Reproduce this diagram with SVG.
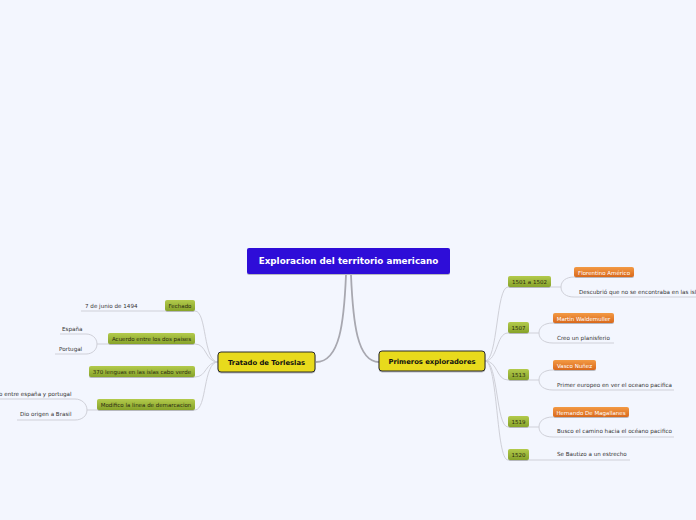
<svg xmlns="http://www.w3.org/2000/svg" width="696" height="520" viewBox="0 0 696 520">
<defs>
<linearGradient id="gGreen" x1="0" y1="0" x2="0" y2="1"><stop offset="0" stop-color="#b3ca4c"/><stop offset="1" stop-color="#86a32a"/></linearGradient>
<linearGradient id="gOrange" x1="0" y1="0" x2="0" y2="1"><stop offset="0" stop-color="#f39a44"/><stop offset="1" stop-color="#d9681c"/></linearGradient>
<filter id="sh" x="-10%" y="-20%" width="120%" height="160%"><feDropShadow dx="0" dy="1" stdDeviation="0.6" flood-color="#000" flood-opacity="0.25"/></filter>
</defs>
<style>
text{font-family:"DejaVu Sans",Verdana,sans-serif}
.leaf{font-size:5.6px;fill:#333}
.pill{font-size:5.5px;fill:#2b2b10;text-anchor:middle}
.opill{font-size:5.5px;fill:#fff;text-anchor:middle}
.g{fill:url(#gGreen);filter:url(#sh)}
.o{fill:url(#gOrange);filter:url(#sh)}
.main{fill:#e8da1c;stroke:#2a2a2a;stroke-width:1;filter:url(#sh)}
.mt{font-size:6.8px;font-weight:bold;fill:#111;text-anchor:middle}
.c{fill:none;stroke:#cfd0d8;stroke-width:1}
.cm{fill:none;stroke:#a8a8b0;stroke-width:1.8}
</style>
<rect width="696" height="520" fill="#f3f6fe"/>
<g id="connectors">
<path class="cm" d="M346,275 C344,322 340,362 316,362"/>
<path class="cm" d="M351,275 C353,322 357,362 379,362"/>
<path class="c" d="M195,311 C207,311 203,362 218,362"/>
<path class="c" d="M195,344 C207,344 205,362 218,362"/>
<path class="c" d="M195,377 C207,377 205,362 218,362"/>
<path class="c" d="M195,410 C207,410 203,362 218,362"/>
<path class="c" d="M81,311 L165,311"/>
<path class="c" d="M108,344 L97,344 C97,338 92,334 86,334 L60,334"/>
<path class="c" d="M97,344 C97,350 92,354 86,354 L55,354"/>
<path class="c" d="M97,410 L87,410 C87,404 82,399 75,399 L0,399"/>
<path class="c" d="M87,410 C87,416 82,420 75,420 L17,420"/>
<path class="c" d="M485,361 C498,361 496,287 508,287"/>
<path class="c" d="M485,361 C498,361 496,333 508,333"/>
<path class="c" d="M485,361 C498,361 496,380 508,380"/>
<path class="c" d="M485,361 C498,361 496,427 508,427"/>
<path class="c" d="M485,361 C498,361 496,460 508,460"/>
<path class="c" d="M551,287 L561,287 C561,281 566,277 574,277"/>
<path class="c" d="M561,287 C561,293 566,297 574,297 L696,297"/>
<path class="c" d="M529,333 L539,333 C539,327 544,323 553,323"/>
<path class="c" d="M539,333 C539,339 544,343 553,343 L614,343"/>
<path class="c" d="M529,380 L539,380 C539,374 544,370 553,370"/>
<path class="c" d="M539,380 C539,386 544,390 553,390 L674,390"/>
<path class="c" d="M529,427 L539,427 C539,421 544,417 553,417"/>
<path class="c" d="M539,427 C539,433 544,437 553,437 L674,437"/>
<path class="c" d="M529,460 L630,460"/>
</g>
<g id="root">
<rect x="247" y="248" width="203" height="26" rx="2" fill="#2f0fd8" filter="url(#sh)"/>
<text x="348.5" y="264" font-size="8.8" font-weight="bold" fill="#fff" text-anchor="middle">Exploracion del territorio americano</text>
</g>
<g id="tratado">
<rect class="main" x="218" y="352" width="97" height="20" rx="3"/>
<text class="mt" x="266.5" y="364.5">Tratado de Torleslas</text>
</g>
<g id="primeros">
<rect class="main" x="379" y="351" width="106" height="20" rx="3"/>
<text class="mt" x="432" y="363.5">Primeros exploradores</text>
</g>
<g id="fechado">
<rect class="g" x="165" y="300" width="30" height="11" rx="2"/>
<text class="pill" x="180" y="308">Fechado</text>
</g>
<g id="fecha"><text class="leaf" x="85" y="308">7 de junio de 1494</text></g>
<g id="acuerdo">
<rect class="g" x="108" y="333" width="87" height="11" rx="2"/>
<text class="pill" x="151.5" y="341">Acuerdo entre los dos paises</text>
</g>
<g id="espana"><text class="leaf" x="62" y="331">España</text></g>
<g id="portugal"><text class="leaf" x="59" y="351">Portugal</text></g>
<g id="lenguas">
<rect class="g" x="89" y="366" width="106" height="11" rx="2"/>
<text class="pill" x="142" y="374">370 lenguas en las islas cabo verde</text>
</g>
<g id="modifico">
<rect class="g" x="97" y="399" width="98" height="11" rx="2"/>
<text class="pill" x="146" y="407">Modifico la linea de demarcacion</text>
</g>
<g id="entre"><text class="leaf" x="-1" y="396">o entre españa y portugal</text></g>
<g id="brasil"><text class="leaf" x="20" y="416">Dio origen a Brasil</text></g>
<g id="y1501">
<rect class="g" x="508" y="276" width="43" height="11" rx="2"/>
<text class="pill" x="529.5" y="284">1501 a 1502</text>
</g>
<g id="florentino">
<rect class="o" x="574" y="267" width="60" height="10" rx="2"/>
<text class="opill" x="604" y="274.5">Florentino Américo</text>
</g>
<g id="descubrio"><text class="leaf" x="579" y="294">Descubrió que no se encontraba en las isla</text></g>
<g id="y1507">
<rect class="g" x="508" y="322" width="21" height="11" rx="2"/>
<text class="pill" x="518.5" y="330">1507</text>
</g>
<g id="martin">
<rect class="o" x="553" y="313" width="61" height="10" rx="2"/>
<text class="opill" x="583.5" y="320.5">Martin Waldemuller</text>
</g>
<g id="creo"><text class="leaf" x="557" y="340">Creo un planisferio</text></g>
<g id="y1513">
<rect class="g" x="508" y="369" width="21" height="11" rx="2"/>
<text class="pill" x="518.5" y="377">1513</text>
</g>
<g id="vasco">
<rect class="o" x="553" y="360" width="43" height="10" rx="2"/>
<text class="opill" x="574.5" y="367.5">Vasco Nuñez</text>
</g>
<g id="primer"><text class="leaf" x="557" y="387">Primer europeo en ver el oceano pacifica</text></g>
<g id="y1519">
<rect class="g" x="508" y="416" width="21" height="11" rx="2"/>
<text class="pill" x="518.5" y="424">1519</text>
</g>
<g id="hernando">
<rect class="o" x="553" y="407" width="76" height="10" rx="2"/>
<text class="opill" x="591" y="414.5">Hernando De Magallanes</text>
</g>
<g id="busco"><text class="leaf" x="557" y="433">Busco el camino hacia el océano pacifico</text></g>
<g id="y1520">
<rect class="g" x="508" y="449" width="21" height="11" rx="2"/>
<text class="pill" x="518.5" y="457">1520</text>
</g>
<g id="bautizo"><text class="leaf" x="557" y="456">Se Bautizo a un estrecho</text></g>
</svg>
